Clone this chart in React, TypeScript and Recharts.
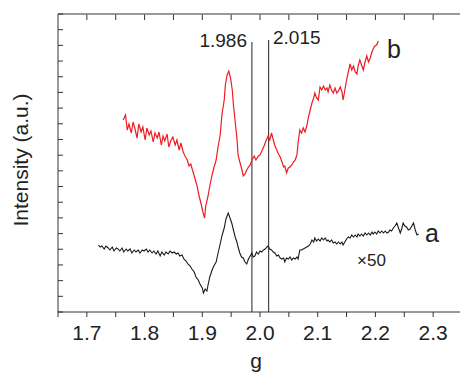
import React from 'react';
import { LineChart, Line, XAxis, YAxis, ReferenceLine } from 'recharts';

// Spectrum b (red), g values and intensity (a.u.)
const gB = [1.763,1.767,1.770,1.773,1.777,1.780,1.783,1.787,1.790,1.794,1.797,1.801,1.804,1.808,1.811,1.815,1.818,1.822,1.825,1.829,1.832,1.835,1.839,1.842,1.846,1.849,1.853,1.856,1.860,1.863,1.867,1.870,1.874,1.877,1.880,1.884,1.887,1.891,1.894,1.898,1.901,1.904,1.906,1.910,1.913,1.917,1.920,1.924,1.927,1.931,1.934,1.938,1.940,1.943,1.946,1.949,1.952,1.954,1.957,1.960,1.962,1.965,1.968,1.971,1.974,1.977,1.980,1.983,1.986,1.990,1.993,1.997,2.000,2.004,2.007,2.011,2.014,2.017,2.020,2.023,2.026,2.029,2.032,2.035,2.038,2.041,2.043,2.046,2.049,2.052,2.055,2.058,2.061,2.064,2.066,2.069,2.072,2.075,2.078,2.081,2.084,2.087,2.090,2.093,2.095,2.098,2.101,2.104,2.107,2.110,2.113,2.116,2.118,2.121,2.124,2.127,2.130,2.133,2.136,2.139,2.142,2.144,2.147,2.150,2.153,2.156,2.159,2.162,2.165,2.168,2.170,2.173,2.176,2.179,2.182,2.185,2.188,2.191,2.194,2.196,2.199,2.202,2.205];
const vB = [192,197,182,188,179,190,184,174,188,180,185,172,184,177,181,170,179,174,180,167,176,171,178,165,172,175,167,172,162,169,160,156,152,146,148,140,134,126,117,108,100,94,106,116,126,137,144,152,164,177,197,212,227,237,241,234,222,207,190,174,157,150,144,136,138,142,145,147,152,156,152,156,157,162,166,172,176,172,179,172,166,162,158,155,150,145,146,139,144,145,147,150,152,157,169,182,179,184,180,186,195,202,209,214,219,214,212,225,222,226,222,224,220,227,222,219,224,219,221,225,220,212,222,232,240,248,242,246,240,238,246,252,247,242,250,256,250,254,260,263,266,267,271];

// Spectrum a (black, x50)
const gA = [1.720,1.723,1.726,1.730,1.733,1.737,1.740,1.744,1.747,1.751,1.754,1.757,1.761,1.764,1.768,1.771,1.775,1.778,1.782,1.785,1.789,1.792,1.796,1.799,1.803,1.806,1.809,1.813,1.816,1.820,1.823,1.827,1.830,1.834,1.837,1.841,1.844,1.848,1.851,1.855,1.858,1.861,1.865,1.868,1.872,1.875,1.879,1.882,1.886,1.889,1.893,1.896,1.900,1.902,1.905,1.908,1.910,1.913,1.917,1.920,1.924,1.927,1.931,1.934,1.938,1.941,1.945,1.948,1.951,1.954,1.957,1.960,1.962,1.965,1.968,1.971,1.974,1.977,1.980,1.983,1.986,1.988,1.991,1.994,1.997,2.000,2.003,2.006,2.009,2.012,2.014,2.017,2.020,2.023,2.026,2.029,2.032,2.035,2.038,2.041,2.043,2.046,2.049,2.052,2.055,2.058,2.061,2.064,2.066,2.069,2.072,2.075,2.078,2.081,2.084,2.087,2.090,2.093,2.095,2.098,2.101,2.104,2.107,2.110,2.113,2.116,2.118,2.121,2.124,2.127,2.130,2.133,2.136,2.139,2.142,2.144,2.147,2.150,2.153,2.156,2.159,2.162,2.165,2.168,2.170,2.173,2.176,2.179,2.182,2.185,2.188,2.191,2.194,2.196,2.199,2.202,2.205,2.208,2.211,2.214,2.217,2.220,2.223,2.225,2.228,2.231,2.234,2.237,2.240,2.243,2.246,2.248,2.251,2.254,2.257,2.260,2.263,2.266,2.269,2.272,2.275];
const vA = [67,65,66,63,66,64,62,65,61,64,63,61,64,60,63,61,63,59,62,60,62,59,62,61,63,60,62,59,61,58,61,56,60,57,60,58,61,59,60,58,59,56,57,53,51,48,46,43,40,35,32,28,24,19,23,21,27,35,42,46,50,58,68,76,84,93,99,94,89,82,75,70,65,59,55,54,50,48,53,56,59,55,56,60,58,61,60,62,63,65,66,63,62,60,59,56,57,54,53,54,50,54,53,55,52,54,53,55,53,62,62,63,64,65,66,68,72,70,74,71,73,71,74,72,74,71,72,70,72,69,70,68,70,68,70,67,70,73,75,74,77,75,77,75,78,76,78,76,79,77,79,77,80,78,80,78,81,79,81,79,81,79,80,82,81,84,86,89,84,79,84,89,86,85,82,83,86,89,82,77,78];

// Marker lines (g values) and their top heights
const markG = [1.986, 2.015];
const markTop = [270, 272];

const xTicks = [1.65,1.7,1.75,1.8,1.85,1.9,1.95,2.0,2.05,2.1,2.15,2.2,2.25,2.3,2.35];
const topTicks = [1.7,1.75,1.8,1.85,1.9,1.95,2.0,2.05,2.1,2.15,2.2,2.25,2.3];
const xDomain = [1.65, 2.35];
const yDomain = [0, 298];
const yTicks = Array.from({ length: 20 }, (_, k) => (k * 298) / 19);

const dataB = gB.map((g, i) => ({ g, v: vB[i] }));
const dataA = gA.map((g, i) => ({ g, v: vA[i] }));

const FONT = '"Liberation Sans", Arial, Helvetica, sans-serif';
const AX = '#333';

const fmt = (v: number) => {
  const r = Math.round(v * 100);
  return r % 10 === 0 ? (r / 100).toFixed(1) : '';
};

// inward tick marks drawn from the left axis position
const LeftTick = (props: any) => (
  <line x1={props.x} y1={props.y} x2={props.x + 5} y2={props.y} stroke={AX} strokeWidth={1} />
);

export default function App() {
  return (
    <div style={{ position: 'fixed', left: 0, top: 0, width: 460, height: 373, overflow: 'hidden', background: '#fff' }}>
      <LineChart width={470} height={373} margin={{ top: 4, right: 8, bottom: 31, left: 38 }}>
        <XAxis
          type="number"
          dataKey="g"
          domain={xDomain}
          ticks={xTicks}
          tickFormatter={fmt}
          height={30}
          tickSize={5}
          tickMargin={8}
          stroke={AX}
          tick={{ fontSize: 21, fill: '#222', fontFamily: FONT }}
          interval={0}
        />
        <XAxis
          xAxisId="top"
          orientation="top"
          type="number"
          dataKey="g"
          domain={xDomain}
          ticks={xTicks}
          height={10}
          tickLine={false}
          tick={false}
          stroke={AX}
        />
        <YAxis
          type="number"
          domain={yDomain}
          ticks={yTicks}
          width={20}
          tickSize={0}
          tickMargin={0}
          tickLine={false}
          tick={LeftTick}
          stroke={AX}
          interval={0}
        />
        {topTicks.map((g) => (
          <ReferenceLine
            key={'t' + g}
            segment={[{ x: g, y: 292 }, { x: g, y: 297.5 }]}
            stroke={AX}
            strokeWidth={1}
          />
        ))}
        {markG.map((g, i) => (
          <ReferenceLine
            key={'m' + g}
            segment={[{ x: g, y: 0 }, { x: g, y: markTop[i] }]}
            stroke="#222"
            strokeWidth={1}
          />
        ))}
        <Line data={dataA} dataKey="v" type="linear" stroke="#1a1a1a" strokeWidth={1.1} dot={false} isAnimationActive={false} />
        <Line data={dataB} dataKey="v" type="linear" stroke="#ee1c25" strokeWidth={1.2} dot={false} isAnimationActive={false} />
      </LineChart>
      <svg width={460} height={373} style={{ position: 'absolute', left: 0, top: 0, pointerEvents: 'none' }}>
        <g fontFamily={FONT} fill="#222">
          <text x={247} y={47} fontSize={19} textAnchor="end">1.986</text>
          <text x={273} y={44} fontSize={19}>2.015</text>
          <text x={387} y={58} fontSize={25}>b</text>
          <text x={425} y={241.5} fontSize={25}>a</text>
          <text x={357} y={265.5} fontSize={17}>×50</text>
          <text x={256} y={368} fontSize={21} textAnchor="middle">g</text>
          <text transform="translate(28,160) rotate(-90)" fontSize={21} textAnchor="middle">Intensity (a.u.)</text>
        </g>
      </svg>
    </div>
  );
}
